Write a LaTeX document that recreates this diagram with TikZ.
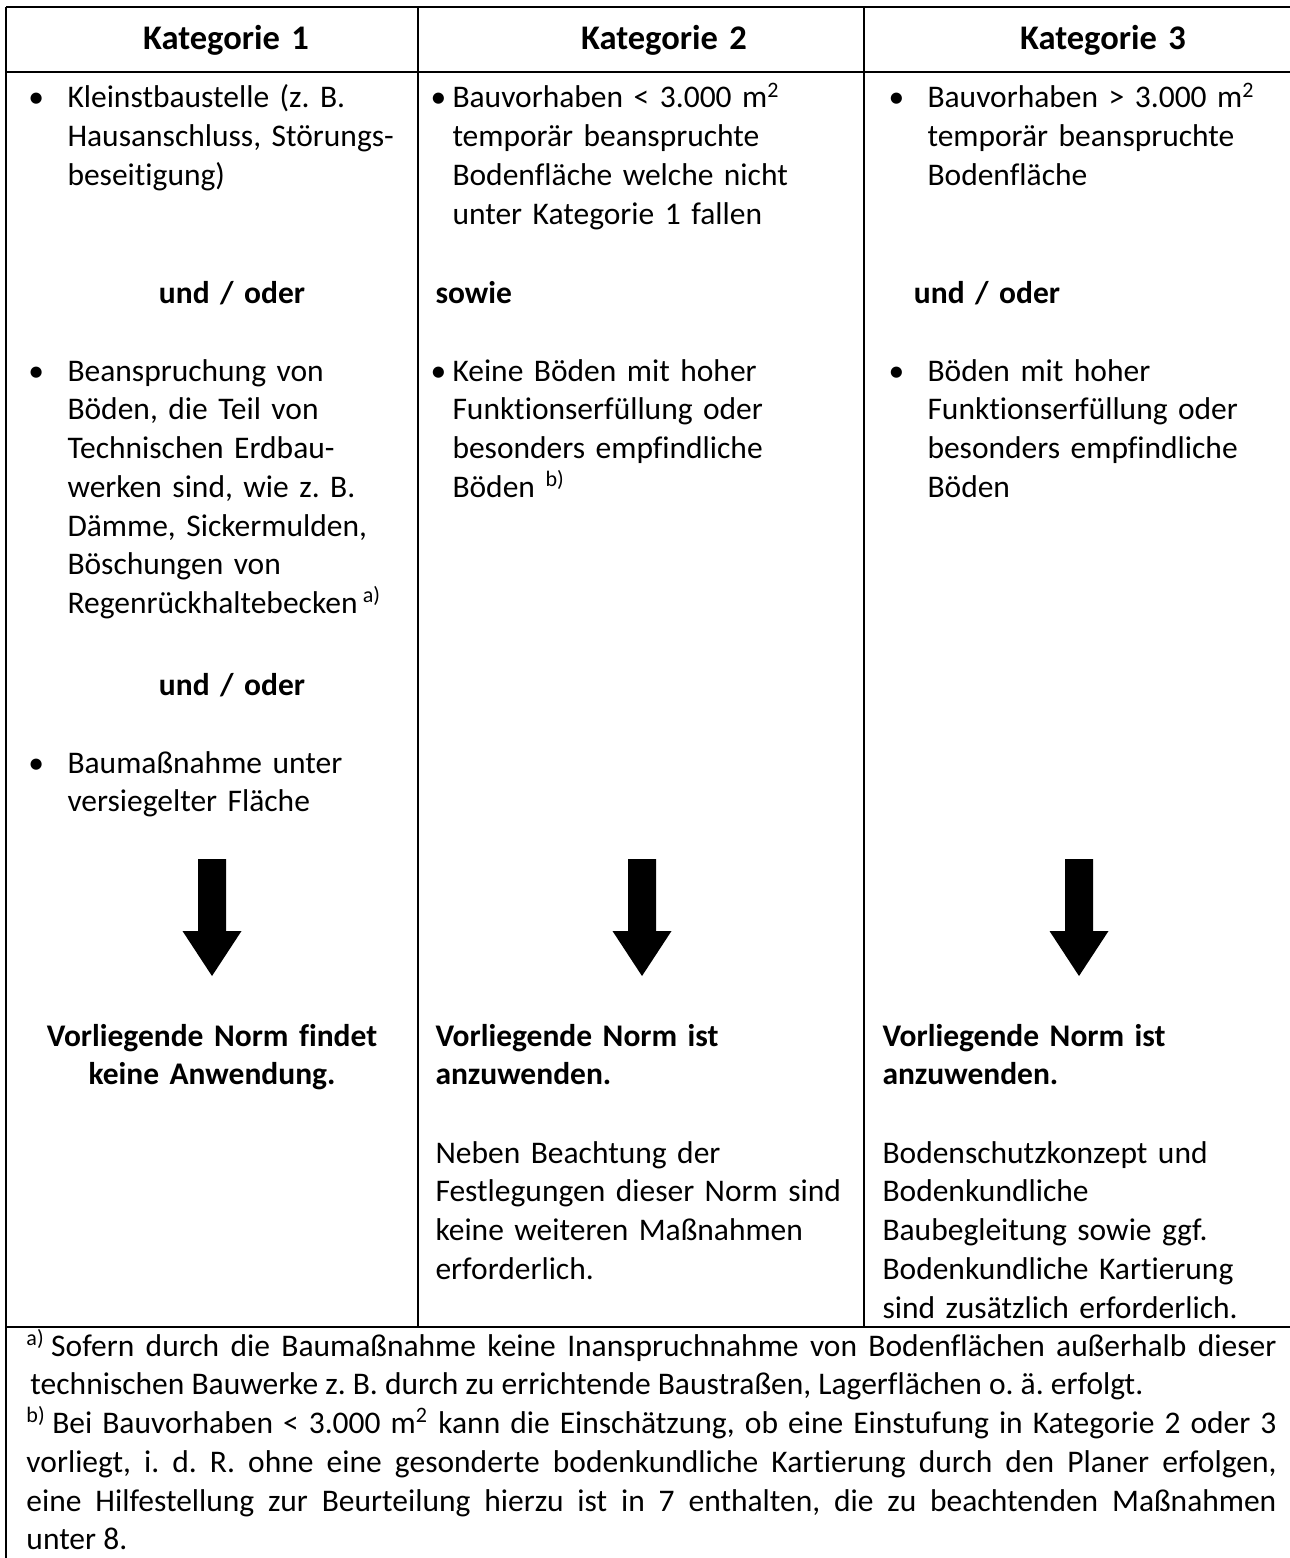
\documentclass[tikz,border=0pt]{standalone}
\usepackage{fontspec}
\setmainfont{Carlito}[Ligatures=NoCommon]
\usetikzlibrary{positioning}

\begin{document}
\begin{tikzpicture}[
    x=0.4pt, y=-0.4pt,
    rule/.style={line width=0.8pt},
    txt/.style={anchor=base west, inner sep=0pt, text width=190pt, align=left, font=\fontsize{12.6}{15.5}\selectfont\frenchspacing},
    bold/.style={txt, font=\fontsize{12.6}{15.5}\selectfont\bfseries},
    mid/.style={anchor=base, inner sep=0pt, text width=160pt, align=center, font=\fontsize{12.6}{15.5}\selectfont\bfseries},
    head/.style={mid, font=\fontsize{13.8}{16}\selectfont\bfseries},
    bul/.style={anchor=base west, inner sep=0pt, font=\fontsize{12.6}{15.5}\selectfont},
    bigarrow/.pic={\fill (-14,0) -- (14,0) -- (14,72) -- (29.5,72) -- (0,117) -- (-29.5,72) -- (-14,72) -- cycle;},
]
    \useasboundingbox (0,0) rectangle (1290,1558);

    \draw[rule] (6,7) -- (1290,7);
    \draw[rule] (6,72) -- (1290,72);
    \draw[rule] (6,7) -- (6,1558);
    \draw[rule] (418,7) -- (418,1327);
    \draw[rule] (864,7) -- (864,1327);
    \draw[rule] (6,1327) -- (1290,1327);

    \node[head] (H1) at (226,50) {Kategorie 1};
    \node[head] (H2) at (664,50) {Kategorie 2};
    \node[head] (H3) at (1103,50) {Kategorie 3};

    \node[bul] (B1a) at (28,108) {•};
    \node[txt] (K1a) at (67,108) {Kleinstbaustelle (z. B.\\Hausanschluss, Störungs-\\beseitigung)};
    \node[mid] (O1a) at (232,303) {und / oder};
    \node[bul] (B1b) at (28,381) {•};
    \node[txt] (K1b) at (67,381) {Beanspruchung von\\Böden, die Teil von\\Technischen Erdbau-\\werken sind, wie z. B.\\Dämme, Sickermulden,\\Böschungen von\\Regenrückhaltebecken\,\textsuperscript{a)}};
    \node[mid] (O1b) at (232,695) {und / oder};
    \node[bul] (B1c) at (28,773) {•};
    \node[txt] (K1c) at (67,773) {Baumaßnahme unter\\versiegelter Fläche};

    \node[bul] (B2a) at (430,108) {•};
    \node[txt] (K2a) at (452,108) {Bauvorhaben < 3.000 m\textsuperscript{2}\\temporär beanspruchte\\Bodenfläche welche nicht\\unter Kategorie 1 fallen};
    \node[bold] (O2) at (435,303) {sowie};
    \node[bul] (B2b) at (430,381) {•};
    \node[txt] (K2b) at (452,381) {Keine Böden mit hoher\\Funktionserfüllung oder\\besonders empfindliche\\Böden \textsuperscript{b)}};

    \node[bul] (B3a) at (888,108) {•};
    \node[txt] (K3a) at (927,108) {Bauvorhaben > 3.000 m\textsuperscript{2}\\temporär beanspruchte\\Bodenfläche};
    \node[mid] (O3) at (987,303) {und / oder};
    \node[bul] (B3b) at (888,381) {•};
    \node[txt] (K3b) at (927,381) {Böden mit hoher\\Funktionserfüllung oder\\besonders empfindliche\\Böden};

    \pic at (212,859) {bigarrow};
    \pic at (642,859) {bigarrow};
    \pic at (1079,859) {bigarrow};

    \node[mid] (R1) at (212,1046) {Vorliegende Norm findet\\keine Anwendung.};
    \node[bold] (R2) at (435,1046) {Vorliegende Norm ist\\anzuwenden.};
    \node[txt] (M2) at (435,1163) {Neben Beachtung der\\Festlegungen dieser Norm sind\\keine weiteren Maßnahmen\\erforderlich.};
    \node[bold] (R3) at (882,1046) {Vorliegende Norm ist\\anzuwenden.};
    \node[txt] (M3) at (882,1163) {Bodenschutzkonzept und\\Bodenkundliche\\Baubegleitung sowie ggf.\\Bodenkundliche Kartierung\\sind zusätzlich erforderlich.};

    \node[txt, text width=500pt, align=justify] (FN) at (26,1356) {%
        \textsuperscript{a)}\kern2.5pt\hangindent=1.6pt\hangafter=1 Sofern durch die Baumaßnahme keine Inanspruchnahme von Bodenflächen außerhalb dieser \linebreak technischen Bauwerke z. B. durch zu errichtende Baustraßen, Lagerflächen o. ä. erfolgt.\par
        \textsuperscript{b)}\kern2.5pt\hangindent=1.6pt\hangafter=1 Bei Bauvorhaben < 3.000 m\textsuperscript{2} kann die Einschätzung, ob eine Einstufung in Kategorie 2 oder 3 \linebreak vorliegt, i. d. R. ohne eine gesonderte bodenkundliche Kartierung durch den Planer erfolgen, \linebreak eine Hilfestellung zur Beurteilung hierzu ist in 7 enthalten, die zu beachtenden Maßnahmen \linebreak unter 8.};
\end{tikzpicture}
\end{document}
